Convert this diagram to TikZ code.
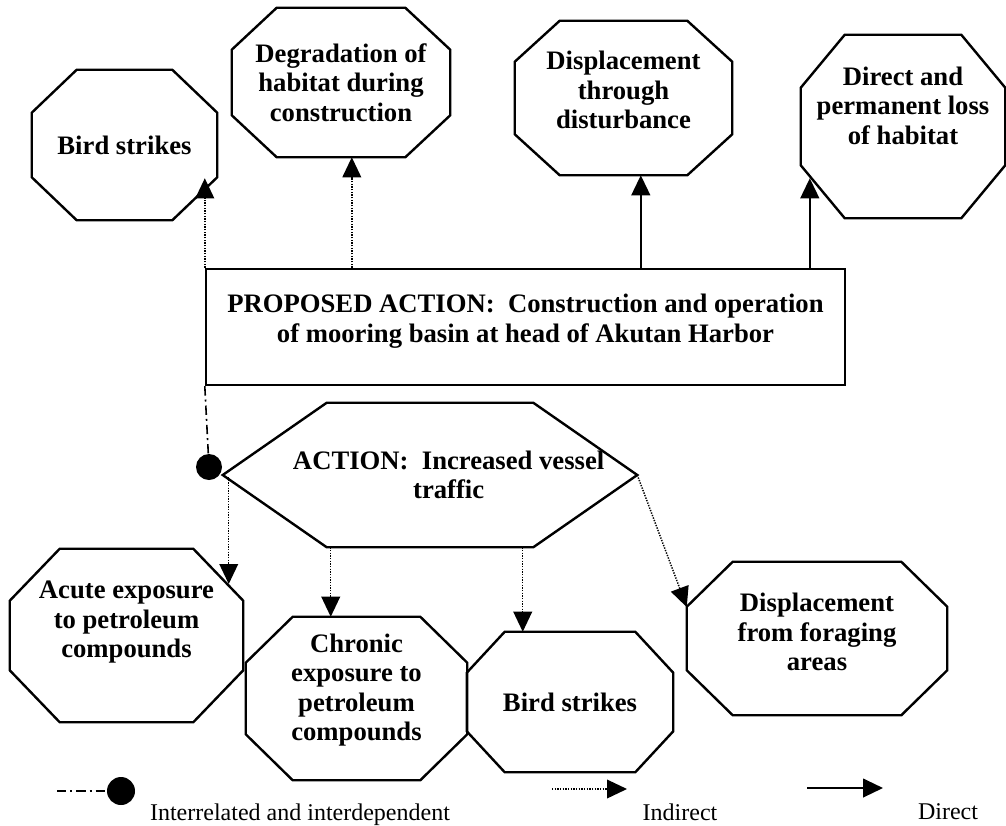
\documentclass[tikz,border=0pt]{standalone}
\usepackage{fontspec}
\setmainfont{Liberation Serif}
\usepackage{tikz}
\usetikzlibrary{arrows.meta, calc}

% octagon round a node: name, x cut, y cut
\newcommand{\octagon}[3]{%
  \draw [outline] ([xshift=#2]#1.north west) -- ([xshift=-#2]#1.north east) -- ([yshift=-#3]#1.north east) -- ([yshift=#3]#1.south east) -- ([xshift=-#2]#1.south east) -- ([xshift=#2]#1.south west) -- ([yshift=#3]#1.south west) -- ([yshift=-#3]#1.north west) -- cycle;}

\begin{document}
\begin{tikzpicture}[x=0.75pt, y=-0.75pt,
	outline/.style = {line width=1.8pt, line join=miter},
	effect/.style = {align=center, inner sep=0pt, font=\bfseries\fontsize{20}{22}\selectfont},
	indirect/.style = {line width=1.1pt, dash pattern=on 1pt off 1pt, -{Triangle[length=15pt, width=14pt]}},
	direct/.style = {line width=1.6pt, -{Triangle[length=15pt, width=14pt]}},
	linked/.style = {line width=1.2pt, dash pattern=on 7pt off 3pt on 1.5pt off 3pt},
	blob/.style = {circle, fill=black, inner sep=0pt},
	keytext/.style = {font=\fontsize{18}{20}\selectfont}]
	\useasboundingbox (0,0) rectangle (1006,825);

	% effects of the harbor
	\node [effect, minimum width=138.75pt, minimum height=112.5pt] (StrikesTop) at (124.5,145) {Bird strikes};
	\node [effect, minimum width=163.5pt, minimum height=111.75pt] (Degradation) at (341,82.5) {Degradation of\\habitat during\\construction};
	\node [effect, minimum width=162.75pt, minimum height=115.5pt] (Disturbance) at (623.5,98) {Displacement\\through\\disturbance\\[-10pt]~};
	\node [effect, minimum width=153pt, minimum height=137.25pt] (Loss) at (903,126.5) {Direct and\\permanent loss\\of habitat\\[9.5pt]~};
	\node [draw, outline, effect, font=\bfseries\fontsize{20}{23}\selectfont, minimum width=479.25pt, minimum height=87pt] (Proposed) at (525.5,327) {PROPOSED ACTION:\ \ Construction and operation\\of mooring basin at head of Akutan Harbor\\[-10pt]~};
	\node [effect, minimum width=310.5pt, minimum height=108pt] (Traffic) at (430,475) {\hspace*{28pt}ACTION:\ \ Increased vessel\\\hspace*{28pt}traffic};
	\node [blob, minimum size=19.5pt] (Link) at (209,467) {};

	% effects of the vessels
	\node [effect, minimum width=174.75pt, minimum height=129.75pt] (Acute) at (126.5,635.5) {Acute exposure\\to petroleum\\compounds\\[2pt]~};
	\node [effect, minimum width=165.75pt, minimum height=122.25pt] (Chronic) at (356.5,698.5) {Chronic\\exposure to\\petroleum\\compounds\\[-5pt]~};
	\node [effect, minimum width=154.5pt, minimum height=105pt] (StrikesLow) at (570,702) {Bird strikes};
	\node [effect, minimum width=195pt, minimum height=114.75pt] (Foraging) at (817,638.5) {Displacement\\from foraging\\areas\\[-12pt]~};

	\foreach \n/\cx/\cy in {StrikesTop/33.75pt/32.25pt, Degradation/33.75pt/31.5pt, Disturbance/33.75pt/30.75pt, Loss/33pt/39.75pt, Acute/37.5pt/39pt, Chronic/35.25pt/34.5pt, StrikesLow/28.5pt/30.75pt, Foraging/34.5pt/33.75pt}
		\octagon{\n}{\cx}{\cy};
	\draw [outline] ([xshift=78pt]Traffic.north west) -- ([xshift=-78pt]Traffic.north east) -- (Traffic.east) -- ([xshift=-78pt]Traffic.south east) -- ([xshift=78pt]Traffic.south west) -- (Traffic.west) -- cycle;

	\draw [indirect] (Proposed.north west) -- ($(Proposed.north west |- StrikesTop.south)+(0,-42)$);
	\draw [indirect] ([xshift=110.25pt]Proposed.north west) -- ([xshift=110.25pt]Proposed.north west |- Degradation.south);
	\draw [direct] ([xshift=327pt]Proposed.north west) -- ([xshift=327pt]Proposed.north west |- Disturbance.south);
	\draw [direct] ([xshift=453.75pt]Proposed.north west) -- ($([xshift=453.75pt]Proposed.north west |- Loss.south)+(0,-40)$);
	\draw [linked] (Proposed.south west) -- (Link);
	\draw [indirect] ([shift={(6,2)}]Traffic.west) -- ++(0,107);
	\draw [indirect] ([xshift=81pt]Traffic.south west) -- ([xshift=81pt]Traffic.south west |- Chronic.north);
	\draw [indirect] ([xshift=225pt]Traffic.south west) -- ([xshift=225pt]Traffic.south west |- StrikesLow.north);
	\draw [indirect] (Traffic.east) -- ([yshift=-34pt]Foraging.north west);

	% key
	\node [blob, minimum size=21pt] (KeyLink) at (121,791) {};
	\coordinate (KeyLinkStart) at (57,791);
	\draw [linked] (KeyLinkStart) -- (KeyLink);
	\node [keytext] (KeyLinkText) at (300,815) {Interrelated and interdependent};
	\coordinate (KeyIndirectStart) at (552,789);
	\coordinate (KeyIndirectEnd) at (627,789);
	\draw [indirect] (KeyIndirectStart) -- (KeyIndirectEnd);
	\node [keytext] (KeyIndirectText) at (680,812) {Indirect};
	\coordinate (KeyDirectStart) at (807,788);
	\coordinate (KeyDirectEnd) at (883,788);
	\draw [direct] (KeyDirectStart) -- (KeyDirectEnd);
	\node [keytext] (KeyDirectText) at (948,812) {Direct};
\end{tikzpicture}
\end{document}
